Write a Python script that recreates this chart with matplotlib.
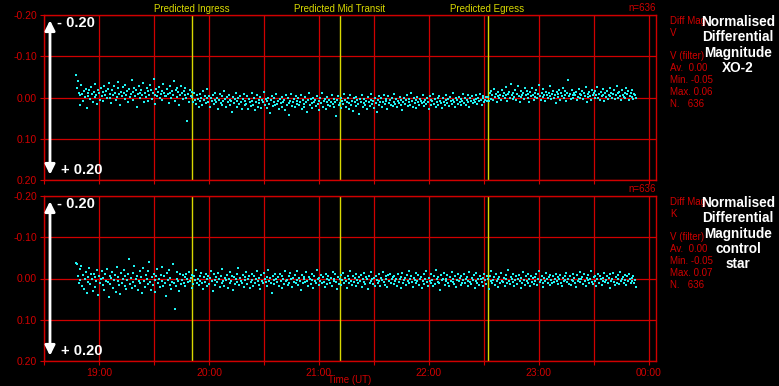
import numpy as np
import matplotlib.pyplot as plt

# observation window (UT hours) and predicted transit times
t_start = 18 + 47.5 / 60
t_end = 23 + 53 / 60
t_ingress = 19 + 50.7 / 60
t_mid = 21 + 11.5 / 60
t_egress = 22 + 32 / 60

# normalised differential magnitudes, in millimag
xo2_mmag = [
    # before ingress
    -55, -22, -40, -12, 18, -5, -30, -9, 8, -15, -2, -20, 25, -11, -4, -18, 3, -26, -8, 12,
    -14, -1, -33, -6, 16, -19, -10, 5, -24, -3, -13, 9, -28, -7, -16, 2, -21, -35, 0, -9,
    14, -17, -5, -27, -12, 7, -2, -22, -38, -8, 19, -14, -4, -25, -11, 4, -30, -6, -15, 10,
    -20, -1, -9, -42, -13, 6, -23, -3, -17, 22, -8, -29, -12, 1, -19, -6, -36, 11, -10, -2,
    -24, -15, 8, -5, -31, -18, 3, -11, -45, -7, 15, -21, -4, -14, -26, 0, -9, -16, 5, -33,
    -12, -4, -3, -20, -8, 13, -27, -10, 2, -15, -6, -39, 9, -18, -1, -22, -13, 17, -5, -28,
    -11, 4, -16, -7, -24, 1, 58, -9, 12, -19, -3, -14,
    # in transit
    -1, 12, -12, 6, 16, -6, 3, 24, -9, 8, 1, 19, -16, 5, -3, 13, 2, -20, 10, -4,
    23, 2, 9, -6, 16, 6, -12, 11, 0, 29, 5, -9, 13, -3, 19, 8, -16, 4, 22, -1,
    12, -6, 19, 5, 9, 34, -2, 14, 3, -11, 22, 8, 0, 16, -3, 11, 27, 4, -9, 17,
    9, 15, -3, 28, 4, 12, 20, -11, 8, 17, 1, 31, 10, -6, 22, 5, 14, -2, 25, 7,
    11, -13, 18, 3, 26, 9, 0, 16, 38, 6, -4, 21, 12, 2, 19, -8, 15, 8, 27, 4,
    13, -1, 23, 10, 6, 30, -5, 17, 2, 14, 42, 8, -9, 20, 11, 4, 24, -3, 16, 9,
    1, 19, 12, -7, 28, 5, 15, 22, -2, 10, 34, 7, -10, 18, 3, 13, 25, 0, 11, 6,
    20, -4, 16, 9, 31, 2, 14, -12, 23, 8, 4, 27, 11, -1, 17, 6, 21, 12, -6, 15,
    3, 24, 10, 45, 7, -3, 19, 13, 0, 26, 9, 16, -8, 5, 22, 11, 2, 29, 14, -5,
    18, 8, 32, 1, 12, -2, 21, 6, 15, 40, 4, 10, -7, 23, 13, 3, 17, 9, 28, -1,
    11, 20, 5, -9, 16, 8, 25, 2, 14, 36, 7, -4, 19, 10, 1, 22, 12, -6, 15, 4,
    9, 27, -3, 13, 6, 18, 0, 21, 11, -8, 16, 3, 24, 8, 14, -1, 19, 5, 30, 10,
    2, 15, 7, -5, 20, 12, 4, 17, -10, 9, 23, 1, 13, 6, 26, -2, 11, 18, 3, 8,
    14, -6, 10, 21, 5, 16, 0, 12, 28, -3, 7, 19, 9, -9, 15, 4, 22, 11, 2, 17,
    -4, 8, 13, 25, 1, 10, 18, -7, 6, 14, 3, 20, -1, 9, 16, 5, -11, 12, 24, 0,
    7, 15, -2, 11, 19, 4, 9, -8, 13, 2, 17, 6, -5, 10, 22, 1, 8, -3, 14, 5,
    12, -6, 3, 16, 0, 9, -9, 7, 18, 2, -4, 11, 5, -1, 8,
    # after egress
    -2, 8, -10, 3, -15, -6, 5, -20, -1, -9, 12, -4, -13, 0, -7, 6, -18, -3, -11, 2,
    -25, -5, 9, -8, -14, 1, -32, -6, 4, -12, -2, -19, 7, -9, -28, -4, 10, -15, -1, -7,
    -11, 3, -22, -5, -16, 0, -8, 11, -13, -3, -24, -6, 5, -10, -1, -17, 2, -9, -30, -4,
    6, -12, -2, -20, -7, 8, -14, -5, 1, -11, -27, -3, 4, -9, -16, 0, -6, 13, -13, -8,
    -1, -18, 5, -10, -4, -23, 2, -7, -15, 9, -12, -42, -3, -8, 3, -19, -6, 0, -11, -5,
    -14, 7, -2, -21, -9, 1, -6, -16, 4, -12, -3, -25, 10, -8, -1, -13, -4, 6, -18, -7,
    -10, 2, -15, -5, -26, 0, -9, 5, -13, -3, -20, -7, 8, -11, -2, -16, 3, -6, -22, -4,
    -12, 1, -8, -17, 4, -5, -29, -10, 0, -14, -3, 7, -19, -6, -1, -11, 2, -24, -8, -15,
    5, -4, -12, -1, -18, 3, -9, -6, 2,
]

control_mmag = [
    -38, -35, -5, 12, -22, 3, -30, 18, -8, 25, 0, -15, 35, -3, 8, -26, 14, -10, 2, 30,
    -12, 20, -4, 6, -20, 40, -7, 11, 1, -18, 16, -2, 28, -11, 5, -24, 9, 45, -6, 13,
    -1, -16, 22, 4, -9, 32, -28, 7, -3, 15, 38, -13, 10, 0, -21, 19, -5, 26, 3, -10,
    -48, 14, -2, 24, -14, 8, -31, 17, 1, -7, 29, 5, -19, 11, -4, 36, -25, 6, 20, -8,
    2, -17, 13, -40, 9, 27, -3, 16, -11, 4, 33, -6, -22, 12, 0, 21, -9, 7, -29, 18,
    -5, 10, 42, -13, 3, -20, 15, -1, 25, 8, -34, 11, 75, 19, 1, -15, 6, 31, -10, 14,
    4, -8, 12, -3, 18, -12, 1, 9, -16, 6, -2, 22, -9, 14, -5, 3, -20, 10, 0, 16,
    -7, 5, -14, 11, 26, -4, 8, -11, 2, 19, -6, 13, -1, -18, 7, 30, -10, 4, 15, -3,
    9, -13, 1, 21, -5, 12, -22, 6, 17, -2, 3, -9, 24, 0, -15, 10, 5, -7, 28, -4,
    14, 2, -11, 8, -25, 16, -1, 6, 11, -8, 20, -3, 4, -16, 13, 1, -6, 23, 9, -12,
    3, 18, -5, 10, 0, -19, 7, 15, -2, 26, -9, 5, 12, -14, 1, 8, -4, 19, -21, 6,
    -1, 11, 35, -7, 4, 14, -12, 2, 9, -3, 17, -10, 6, 22, -5, 0, 13, -17, 7, 3,
    16, -6, 10, -13, 1, 20, -2, 8, -9, 12, 4, -18, 15, -1, 5, 27, -8, 11, 2, -4,
    9, -15, 6, 18, -3, 0, 13, -11, 3, 24, -6, 7, 10, -20, 1, 15, -2, 5, -9, 12,
    -4, 8, 21, -12, 2, 14, -7, 4, 11, -1, 19, -16, 6, 0, -10, 9, 25, -3, 13, 1,
    -8, 16, 3, -14, 10, -2, 7, 22, -5, 12, 0, -19, 5, 15, -6, 9, -1, 18, -11, 4,
    11, -3, 6, -9, 20, 1, -13, 8, 14, -4, 2, 26, -7, 10, -16, 5, 0, 13, -2, 17,
    -6, 3, 12, -10, 7, 19, -1, 4, -15, 9, 15, -5, 1, 21, -8, 6, -12, 11, 2, -3,
    14, -7, 5, 0, 18, -11, 8, 2, -4, 23, -14, 10, 3, -1, 16, -9, 6, -18, 12, 1,
    -5, 9, 20, -2, 4, -13, 11, 7, -8, 15, 0, -3, 24, 6, -10, 13, 2, -17, 8, 17,
    -1, 5, -12, 10, 3, 19, -6, 14, -20, 1, 8, -4, 12, 28, -9, 4, 0, -14, 16, 6,
    2, -8, 11, 17, -3, 7, -15, 9, 0, 13, -5, 21, 4, -11, 6, -2, 15, -7, 10, 3,
    -10, 12, 1, -4, 19, 5, -16, 8, 14, -1, 3, -9, 22, 6, -13, 11, 0, 16, -6, 2,
    9, -2, 18, -12, 4, 13, -7, 1, 25, -5, 7, -18, 10, 3, -3, 15, -10, 6, 0, 20,
    -4, 11, -14, 5, 8, -1, 17, -8, 2, 12, -21, 6, 14, -3, 0, 9, -11, 19, 4, -6,
    13, 1, -9, 7, 22, -2, 10, -15, 3, 16, -5, 5, -12, 11, 0, 18, -7, 8, -1, 14,
    -3, 6, -10, 15, 2, -17, 9, 4, -6, 12, 20, -2, 7, -13, 1, 10, -4, 16, -8, 3,
    11, -5, 8, 0, -12, 5, 14, -3, 2, -9, 10, 18, -1, 6, -7, 4, -14, 9, 1, 13,
    -6, 16, 3, -10, 7, -2, 12, 21, -8, 5, 0, -15, 9, 2, -4, 14, -11, 6, 17, -1,
    4, -9, 10, 1, -18, 8, 13, -3, 6, -7, 19, 2, -12, 11, -5, 0, 15, -2, 7, -14,
    9, 3, -6, 12, -1, 24, -10, 5, 1, -13, 8, 16, -4, 10, -8, 2, 13, -16, 6, 0,
    -3, 11, -9, 4, 15, -5, 7, -11, 1, 10, -2, 6, -7, 12, 3, 20,
]

hour_ticks = [19, 20, 21, 22, 23, 24]
hour_labels = ['19:00', '20:00', '21:00', '22:00', '23:00', '00:00']
half_hours = [18.5, 19.5, 20.5, 21.5, 22.5, 23.5]
mag_ticks = [-0.2, -0.1, 0.0, 0.1, 0.2]
mag_labels = ['-0.20', '-0.10', '0.00', '0.10', '0.20']

panels = [
    dict(mag=xo2_mmag, filt='V', stats=['Av.  0.00', 'Min. -0.05', 'Max. 0.06', 'N.   636'],
         label='Normalised\nDifferential\nMagnitude\nXO-2'),
    dict(mag=control_mmag, filt='K', stats=['Av.  0.00', 'Min. -0.05', 'Max. 0.07', 'N.   636'],
         label='Normalised\nDifferential\nMagnitude\ncontrol\nstar'),
]

RED = '#d00000'
YELLOW = '#d8d800'
CYAN = '#1ff2f2'
plt.rcParams['font.family'] = ['Liberation Sans', 'DejaVu Sans']

fig = plt.figure(figsize=(7.79, 3.86), dpi=100, facecolor='black')
W, H = 779, 386
ax_boxes = [(44, 15), (44, 196)]  # left, top in pixels

for i, p in enumerate(panels):
    left, top = ax_boxes[i]
    ax = fig.add_axes([left / W, 1 - (top + 165) / H, 612 / W, 165 / H])
    ax.set_facecolor('black')

    y = np.array(p['mag']) / 1000.0
    t = np.linspace(t_start, t_end, len(y))
    ax.scatter(t, y, s=4, marker='s', c=CYAN, linewidths=0, zorder=3)

    for tt in (t_ingress, t_mid, t_egress):
        ax.axvline(tt, color=YELLOW, lw=1, zorder=2)

    ax.set_xlim(18.5, 24.065)
    ax.set_ylim(0.2, -0.2)
    ax.set_yticks(mag_ticks)
    ax.set_yticklabels(mag_labels)
    ax.set_xticks(hour_ticks)
    ax.set_xticks(half_hours, minor=True)
    if i == 1:
        ax.set_xticklabels(hour_labels)
    else:
        ax.set_xticklabels([])
    ax.grid(which='both', color=RED, lw=0.9, zorder=1)
    ax.tick_params(which='both', colors=RED, labelcolor=RED, labelsize=7.5, length=3, width=0.8, pad=2)
    for s in ax.spines.values():
        s.set_color(RED)
        s.set_linewidth(1)

    # magnitude range arrow
    ax.annotate('', xy=(0.0098, 0.985), xytext=(0.0098, 0.015), xycoords='axes fraction',
                arrowprops=dict(arrowstyle='<|-|>,head_length=0.6,head_width=0.3',
                                color='white', lw=2, mutation_scale=10))
    ax.text(0.022, 0.95, '- 0.20', transform=ax.transAxes, color='white',
            fontsize=10.5, fontweight='bold', va='center', ha='left')
    ax.text(0.028, 0.06, '+ 0.20', transform=ax.transAxes, color='white',
            fontsize=10.5, fontweight='bold', va='center', ha='left')

    ax.text(1.0, 1.01, 'n=636', transform=ax.transAxes, color=RED, fontsize=7,
            ha='right', va='bottom')

    # side info
    x0 = 670 / W
    ytop = 1 - (top + 6) / H
    side = ['Diff Mag', p['filt'], '', 'V (filter)'] + p['stats']
    for k, line in enumerate(side):
        fig.text(x0, ytop - k * 11.8 / H, line, color=RED, fontsize=7, va='center', ha='left')
    fig.text(738 / W, 1 - (top - 0) / H, p['label'], color='white', fontsize=9.8,
             fontweight='bold', ha='center', va='top', linespacing=1.12)

    if i == 0:
        for tt, name in ((t_ingress, 'Predicted Ingress'), (t_mid, 'Predicted Mid Transit'),
                         (t_egress, 'Predicted Egress')):
            ax.text(tt, -0.203, name, color=YELLOW, fontsize=7, ha='center', va='bottom',
                    transform=ax.transData)

fig.text(350 / W, 1 - 380 / H, 'Time (UT)', color=RED, fontsize=7, ha='center', va='center')

fig.savefig('out.png', dpi=100, facecolor='black')
